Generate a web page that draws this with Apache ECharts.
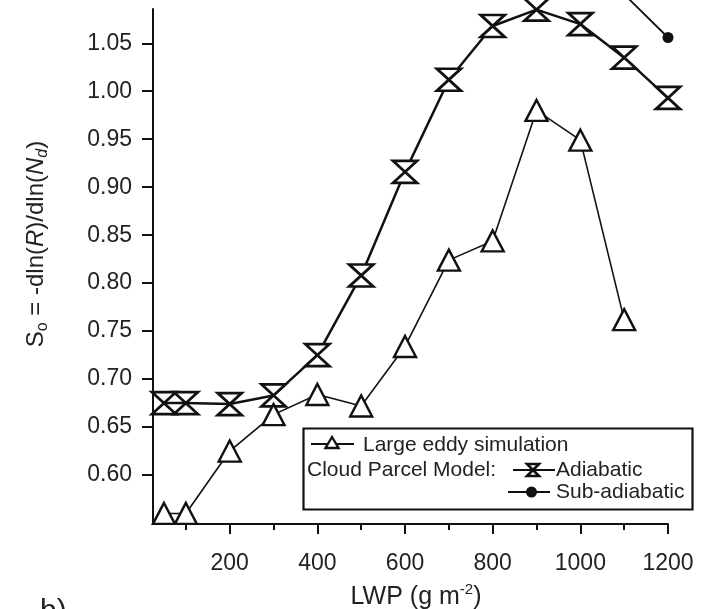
<!DOCTYPE html>
<html>
<head>
<meta charset="utf-8">
<script src="https://cdn.jsdelivr.net/npm/echarts@6.0.0/dist/echarts.min.js"></script>
<style>
    html, body { margin: 0; padding: 0; background: #fff; }
    #main { width: 704px; height: 609px; }
</style>
</head>
<body>
<div id="main"></div>
<script>
// 数据
var lesX = [50, 100, 200, 300, 400, 500, 600, 700, 800, 900, 1000, 1100];
var lesY = [0.560, 0.560, 0.625, 0.663, 0.684, 0.672, 0.734, 0.824, 0.844, 0.980, 0.949, 0.762];
var adiX = [50, 100, 200, 300, 400, 500, 600, 700, 800, 900, 1000, 1100, 1200];
var adiY = [0.675, 0.675, 0.674, 0.683, 0.725, 0.808, 0.916, 1.012, 1.068, 1.085, 1.070, 1.035, 0.993];
var subX = [1100, 1200];
var subY = [1.101, 1.056];
var xTicks = [200, 400, 600, 800, 1000, 1200];
var xMinorTicks = [100, 300, 500, 700, 900, 1100];
var yTicks = [0.60, 0.65, 0.70, 0.75, 0.80, 0.85, 0.90, 0.95, 1.00, 1.05];

function pairs(xs, ys) {
    return xs.map(function (x, i) { return [x, ys[i]]; });
}

(function () {
    var myChart = echarts.init(document.getElementById('main'));
    var font = 'Liberation Sans';
    var ink = '#111';
    var hourglass = 'path://M0,0L20,0L0,20L20,20Z';

    // 图例里的小符号
    function legendLine(x1, x2, y) {
        return { type: 'line', shape: { x1: x1, y1: y, x2: x2, y2: y }, style: { stroke: ink, lineWidth: 2 } };
    }

    var option = {
        animation: false,
        backgroundColor: '#fff',
        grid: { left: 153, top: 9, right: 36, bottom: 85 },
        xAxis: [
            {
                type: 'value',
                min: 25,
                max: 1200,
                axisLine: { onZero: false, lineStyle: { color: ink, width: 2 } },
                axisTick: { customValues: xTicks, length: 10, lineStyle: { color: ink, width: 2 } },
                axisLabel: {
                    customValues: xTicks,
                    margin: 28,
                    color: '#222',
                    fontFamily: font,
                    fontSize: 23,
                    formatter: function (v) { return String(v); }
                },
                splitLine: { show: false }
            },
            {
                // 次刻度
                type: 'value',
                min: 25,
                max: 1200,
                position: 'bottom',
                axisLine: { show: false },
                axisTick: { customValues: xMinorTicks, length: 6, lineStyle: { color: ink, width: 2 } },
                axisLabel: { show: false },
                splitLine: { show: false }
            }
        ],
        yAxis: {
            type: 'value',
            min: 0.549,
            max: 1.0857,
            axisLine: { show: true, onZero: false, lineStyle: { color: ink, width: 2 } },
            axisTick: { show: true, customValues: yTicks, length: 11, lineStyle: { color: ink, width: 2 } },
            axisLabel: {
                customValues: yTicks,
                margin: 21,
                color: '#222',
                fontFamily: font,
                fontSize: 23,
                formatter: function (v) { return v.toFixed(2); }
            },
            splitLine: { show: false }
        },
        series: [
            {
                name: 'Adiabatic',
                type: 'line',
                data: pairs(adiX, adiY),
                clip: false,
                symbol: hourglass,
                symbolSize: [24, 22],
                lineStyle: { color: ink, width: 2.5 },
                itemStyle: { color: '#fff', borderColor: ink, borderWidth: 2.8 },
                z: 2
            },
            {
                name: 'Large eddy simulation',
                type: 'line',
                data: pairs(lesX, lesY),
                clip: false,
                symbol: 'triangle',
                symbolSize: [22, 21],
                lineStyle: { color: ink, width: 1.6 },
                itemStyle: { color: '#fff', borderColor: ink, borderWidth: 2.4 },
                z: 3
            },
            {
                name: 'Sub-adiabatic',
                type: 'line',
                data: pairs(subX, subY),
                clip: false,
                symbol: 'circle',
                symbolSize: 11,
                lineStyle: { color: ink, width: 1.8 },
                itemStyle: { color: ink },
                z: 4
            }
        ],
        graphic: [
            // y 轴标题
            {
                type: 'text',
                x: 36,
                y: 244,
                rotation: Math.PI / 2,
                style: {
                    text: '{n|S}{sub|o}{n| = -dln(}{i|R}{n|)/dln(}{i|N}{isub|d}{n|)}',
                    align: 'center',
                    verticalAlign: 'middle',
                    fill: '#222',
                    rich: {
                        n: { fontFamily: font, fontSize: 24, lineHeight: 30, fill: '#222' },
                        i: { fontFamily: font, fontSize: 24, lineHeight: 30, fontStyle: 'italic', fill: '#222' },
                        sub: { fontFamily: font, fontSize: 16, lineHeight: 18, verticalAlign: 'bottom', fill: '#222' },
                        isub: { fontFamily: font, fontSize: 16, lineHeight: 18, fontStyle: 'italic', verticalAlign: 'bottom', fill: '#222' }
                    }
                }
            },
            // x 轴标题
            {
                type: 'text',
                x: 416,
                y: 597,
                style: {
                    text: '{n|LWP (g m}{sup|-2}{n|)}',
                    align: 'center',
                    verticalAlign: 'middle',
                    rich: {
                        n: { fontFamily: font, fontSize: 25, lineHeight: 30, fill: '#222' },
                        sup: { fontFamily: font, fontSize: 15, lineHeight: 17, verticalAlign: 'top', fill: '#222' }
                    }
                }
            },
            {
                type: 'text',
                x: 40,
                y: 597,
                style: { text: 'b)', font: '30px ' + font, fill: '#222' }
            },
            // 图例
            {
                type: 'group',
                z: 10,
                children: [
                    {
                        type: 'rect',
                        shape: { x: 303.5, y: 428.5, width: 389, height: 81 },
                        style: { fill: '#fff', stroke: ink, lineWidth: 2.2 }
                    },
                    legendLine(311, 354, 444),
                    {
                        type: 'polygon',
                        shape: { points: [[332, 437], [338.5, 448], [325.5, 448]] },
                        style: { fill: '#fff', stroke: ink, lineWidth: 2.4 }
                    },
                    {
                        type: 'text', x: 363, y: 445,
                        style: { text: 'Large eddy simulation', font: '21px ' + font, fill: '#222', verticalAlign: 'middle' }
                    },
                    {
                        type: 'text', x: 307, y: 470,
                        style: { text: 'Cloud Parcel Model:', font: '21px ' + font, fill: '#222', verticalAlign: 'middle' }
                    },
                    legendLine(513, 555, 470),
                    {
                        type: 'polygon',
                        shape: { points: [[527, 464], [539, 464], [527, 476], [539, 476]] },
                        style: { fill: '#fff', stroke: ink, lineWidth: 2.6 }
                    },
                    {
                        type: 'text', x: 556, y: 470,
                        style: { text: 'Adiabatic', font: '21px ' + font, fill: '#222', verticalAlign: 'middle' }
                    },
                    legendLine(508, 550, 492),
                    {
                        type: 'circle',
                        shape: { cx: 531.5, cy: 492, r: 5.5 },
                        style: { fill: ink }
                    },
                    {
                        type: 'text', x: 556, y: 492,
                        style: { text: 'Sub-adiabatic', font: '21px ' + font, fill: '#222', verticalAlign: 'middle' }
                    }
                ]
            }
        ]
    };
    myChart.setOption(option);

    window.addEventListener('resize', function () {
        myChart.resize();
    });
})();
</script>
</body>
</html>
